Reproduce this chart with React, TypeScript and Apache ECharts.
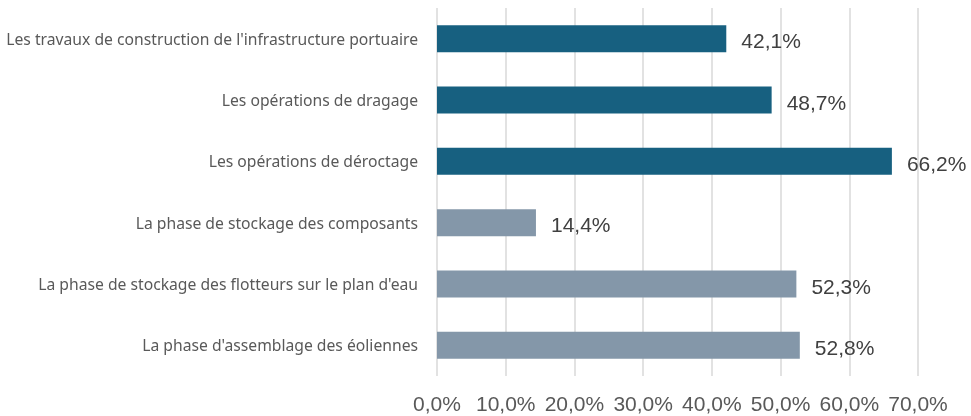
import React, { useEffect, useRef } from "react";
import * as echarts from "echarts";

const categories = [
  "Les travaux de construction de l'infrastructure portuaire",
  "Les opérations de dragage",
  "Les opérations de déroctage",
  "La phase de stockage des composants",
  "La phase de stockage des flotteurs sur le plan d'eau",
  "La phase d'assemblage des éoliennes",
];
const values = [42.1, 48.7, 66.2, 14.4, 52.3, 52.8];
const groups = ["travaux", "travaux", "travaux", "phase", "phase", "phase"];
const axisMin = 0;
const axisMax = 70;
const axisInterval = 10;

const groupColors: Record<string, string> = {
  travaux: "#176080",
  phase: "#8497A9",
};

const fmt = (v: number) => v.toFixed(1).replace(".", ",") + "%";

export default function App() {
  const ref = useRef<HTMLDivElement>(null);
  useEffect(() => {
    if (!ref.current) return;
    const chart = echarts.init(ref.current, undefined, { renderer: "svg" });
    chart.setOption({
      animation: false,
      textStyle: { fontFamily: "Liberation Sans" },
      grid: { left: 437, right: 53, top: 8, bottom: 40, containLabel: false },
      xAxis: {
        type: "value",
        min: axisMin,
        max: axisMax,
        interval: axisInterval,
        axisLine: { show: false },
        axisTick: { show: false },
        splitLine: { show: true, lineStyle: { color: "#d9d9d9", width: 1.5 } },
        axisLabel: {
          formatter: (v: number) => fmt(v),
          fontSize: 21,
          color: "#595959",
          margin: 17,
          fontFamily: "Liberation Sans",
        },
      },
      yAxis: {
        type: "category",
        data: categories,
        inverse: true,
        axisLine: { show: false },
        axisTick: { show: false },
        axisLabel: {
          fontSize: 15.7,
          color: "#595959",
          margin: 19,
          fontFamily: "Noto Sans",
        },
      },
      series: [
        {
          type: "bar",
          barWidth: 27,
          data: values.map((v, i) => ({
            value: v,
            itemStyle: { color: groupColors[groups[i]] },
          })),
          label: {
            show: true,
            position: "right",
            distance: 15,
            formatter: (p: any) => fmt(p.value),
            fontSize: 21,
            color: "#404040",
            fontFamily: "Liberation Sans",
            offset: [0, 2],
          },
        },
      ],
    });
    return () => chart.dispose();
  }, []);
  return (
    <div
      ref={ref}
      style={{ position: "fixed", left: 0, top: 0, width: 971, height: 416 }}
    />
  );
}
